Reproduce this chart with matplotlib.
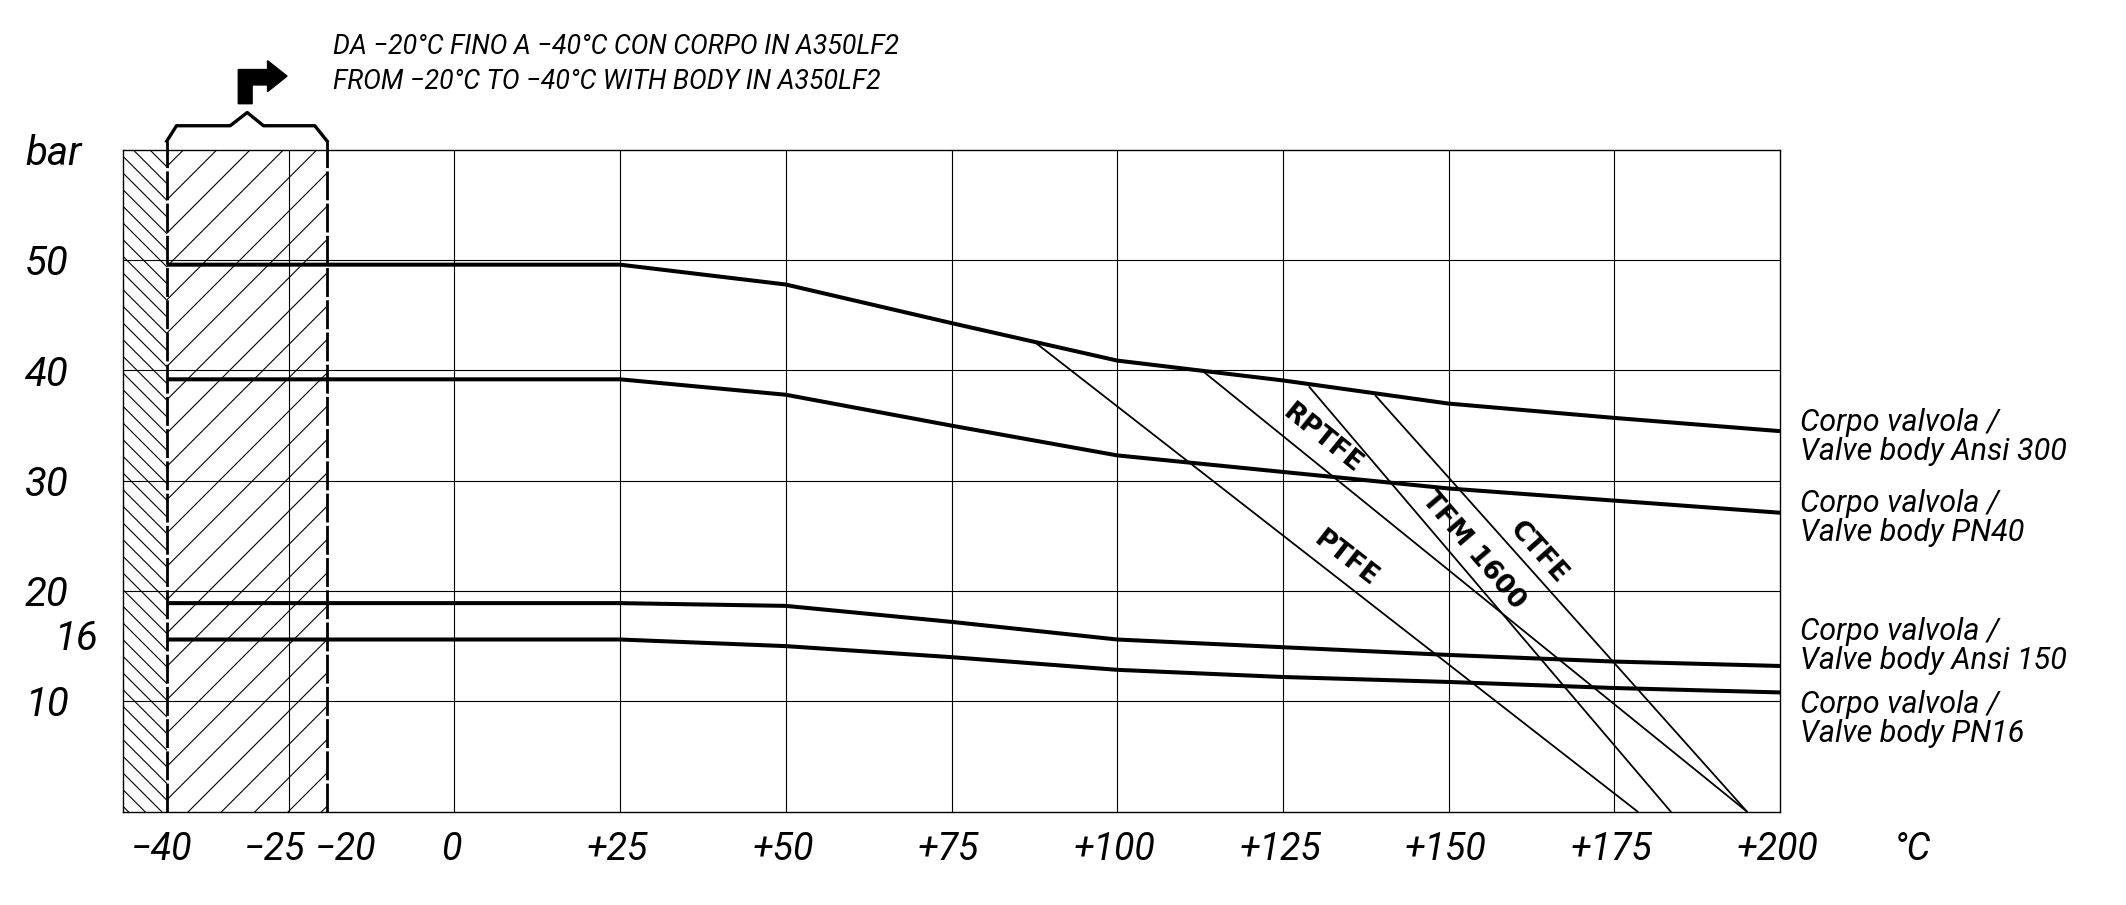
import numpy as np
import matplotlib
matplotlib.use("Agg")
import matplotlib.pyplot as plt
from matplotlib import transforms as mtransforms
from matplotlib.patches import Polygon

# body rating curves (bar) read at these temperatures (°C)
temp = [-40, 25, 50, 75, 100, 125, 150, 175, 200]
ansi300 = [49.6, 49.6, 47.8, 44.3, 40.9, 39.1, 37.0, 35.7, 34.5]
pn40 = [39.2, 39.2, 37.8, 35.0, 32.3, 30.8, 29.3, 28.2, 27.1]
ansi150 = [18.9, 18.9, 18.65, 17.2, 15.6, 14.9, 14.2, 13.6, 13.2]
pn16 = [15.6, 15.6, 15.0, 14.0, 12.85, 12.2, 11.75, 11.2, 10.8]
body_labels = ["Corpo valvola /\nValve body Ansi 300", "Corpo valvola /\nValve body PN40",
               "Corpo valvola /\nValve body Ansi 150", "Corpo valvola /\nValve body PN16"]

# seat limits: start on the Ansi 300 curve, end at 0 bar
seat_names = ["PTFE", "RPTFE", "TFM 1600", "CTFE"]
seat_temp = [[87.5, 178.5], [113, 195], [129, 183.5], [139, 195]]
seat_bar = [[42.6, 0], [39.9, 0], [38.5, 0], [37.7, 0]]

x_ticks = [-40, -25, -20, 0, 25, 50, 75, 100, 125, 150, 175, 200]
x_labels = ["−40", "−25", "−20", "0", "+25", "+50", "+75", "+100", "+125", "+150", "+175", "+200"]
y_ticks = [10, 16, 20, 30, 40, 50]
y_labels = ["10", "16", "20", "30", "40", "50"]

# the drawing is not to scale left of 0 °C
T_KNOTS = [-100, -50, -40, -25, -20, 0, 400]
P_KNOTS = [-100, -50, -43.4, -25, -19.2, 0, 400]


def fwd(t):
    return np.interp(t, T_KNOTS, P_KNOTS)


def inv(p):
    return np.interp(p, P_KNOTS, T_KNOTS)


plt.rcParams["hatch.linewidth"] = 0.4
plt.rcParams["font.family"] = ["Roboto", "DejaVu Sans"]
W, H, DPI = 2126, 905, 200
fig = plt.figure(figsize=(W / DPI, H / DPI), dpi=DPI)
ax = fig.add_axes([123 / W, 1 - 811.5 / H, (1780 - 123) / W, (811.5 - 150) / H])
ax.set_xscale("function", functions=(fwd, inv))
ax.set_xlim(-50, 200)
ax.set_ylim(0, 60)

# grid
ax.set_xticks([-25, 0, 25, 50, 75, 100, 125, 150, 175])
ax.set_yticks([10, 20, 30, 40, 50])
ax.set_xticklabels([])
ax.set_yticklabels([])
ax.tick_params(length=0)
ax.grid(True, color="black", lw=0.4)
for s in ax.spines.values():
    s.set_linewidth(0.5)

# hatched low-temperature zones
ax.axvspan(-50, -40, facecolor="none", edgecolor="black", hatch="\\" * 4, lw=0)
ax.axvspan(-40, -20, facecolor="none", edgecolor="black", hatch="//", lw=0)
for t in (-40, -20):
    ax.plot([t, t], [0, 60.8], color="black", lw=1.0, ls=(0, (10.4, 1.2)),
            clip_on=False, zorder=4)

# bracket and arrow above the A350LF2 zone
ax.plot([-40, -38.8, -32.2, -30.1, -28.1, -21.6, -20],
        [60.8, 62.2, 62.2, 63.4, 62.2, 62.2, 60.8],
        color="black", lw=1.2, clip_on=False, solid_joinstyle="round")
arrow = Polygon([(-31.2, 64.2), (-31.2, 67.3), (-27.6, 67.3), (-27.6, 68.1), (-25.2, 66.7),
                 (-27.6, 65.3), (-27.6, 65.9), (-29.5, 65.9), (-29.5, 64.2)],
                closed=True, facecolor="black", edgecolor="black", lw=0.5, clip_on=False)
ax.add_patch(arrow)

# body curves
for vals in (ansi300, pn40, ansi150, pn16):
    ax.plot(temp, vals, color="black", lw=1.45, zorder=5, solid_capstyle="butt")

# seat lines and their labels
label_pos = [(134.5, 22.9), (130.9, 33.8), (153.7, 23.7), (163.6, 23.5)]
for name, st, sb, (lx, ly) in zip(seat_names, seat_temp, seat_bar, label_pos):
    ax.plot(st, sb, color="black", lw=0.65, zorder=5)
    ang = np.degrees(np.arctan2(sb[1] - sb[0], st[1] - st[0]))
    ax.text(lx, ly, name, rotation=ang, transform_rotates_text=True, rotation_mode="anchor",
            ha="center", va="center", fontsize=9.5, fontweight="bold",
            family=["DejaVu Sans"], zorder=6)

# x labels
x_off = {-40: -2, -25: -5, -20: 6.8}
for t, lbl in zip(x_ticks, x_labels):
    ax.annotate(lbl, xy=(t, 0), xytext=(x_off.get(t, -1), -13.5), textcoords="offset points",
                ha="center", va="center", fontsize=13.5, style="italic",
                annotation_clip=False)
ax.annotate("°C", xy=(220, 0), xytext=(0, -13.5), textcoords="offset points",
            ha="center", va="center", fontsize=13.5, style="italic",
            annotation_clip=False)

# y labels
ytr = mtransforms.blended_transform_factory(fig.transFigure, ax.transData)
for v, lbl in zip(y_ticks, y_labels):
    xl = 54 / W if v == 16 else 25 / W
    ax.text(xl, v, lbl, transform=ytr, ha="left", va="center_baseline", fontsize=14.5,
            style="italic", clip_on=False)
ax.text(25 / W, 60, "bar", transform=ytr, ha="left", va="center_baseline", fontsize=14.5,
        style="italic", clip_on=False)

# body curve labels on the right
for lbl, yv in zip(body_labels, [34.0, 26.6, 15.0, 8.4]):
    ax.text(1800 / W, yv, lbl, transform=ytr, ha="left", va="center", fontsize=11,
            style="italic", linespacing=1.0, clip_on=False)

# note at the top
fig.text(333 / W, 1 - 46.5 / H, "DA −20°C FINO A −40°C CON CORPO IN A350LF2",
         ha="left", va="center", fontsize=9.6, style="italic")
fig.text(333 / W, 1 - 81.7 / H, "FROM −20°C TO −40°C WITH BODY IN A350LF2",
         ha="left", va="center", fontsize=9.6, style="italic")

fig.savefig("out.png", dpi=DPI, facecolor="white")
